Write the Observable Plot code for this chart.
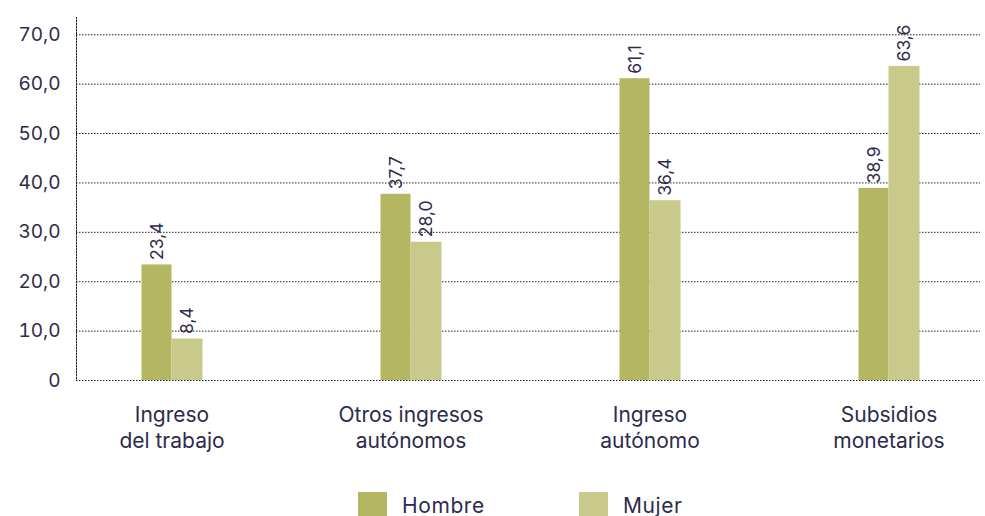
<!DOCTYPE html>
<html>
<head>
<meta charset="utf-8">
<script src="https://cdn.jsdelivr.net/npm/d3@7"></script>
<script src="https://cdn.jsdelivr.net/npm/@observablehq/plot@0.6"></script>
<style>
  html, body { margin: 0; padding: 0; background: #fff; width: 985px; height: 516px; overflow: hidden; }
  body { font-family: Inter, "Open Sans", sans-serif; color: #2d2b4a; }
  #legend { position: relative; height: 36px; }
  .item { position: absolute; top: 12px; display: flex; align-items: center; font-size: 21px; letter-spacing: 0.6px; }
  .sw { width: 29px; height: 26px; margin-right: 15px; }
</style>
</head>
<body>
<div id="chart"></div>
<div id="legend"></div>
<script>
const categories = ["Ingreso\ndel trabajo", "Otros ingresos\nautónomos", "Ingreso\nautónomo", "Subsidios\nmonetarios"];
const series = ["Hombre", "Mujer"];
const hombre = [23.4, 37.7, 61.1, 38.9];
const mujer = [8.4, 28.0, 36.4, 63.6];
const yTicks = [0, 10, 20, 30, 40, 50, 60, 70];
const colors = ["#b4b662", "#c8c98b"];

const data = [];
categories.forEach((c, i) => {
  data.push({cat: c, sex: "Hombre", v: hombre[i]});
  data.push({cat: c, sex: "Mujer", v: mujer[i]});
});
const fmt = v => v.toFixed(1).replace(".", ",");
const ink = "#2d2b4a";

const chart = Plot.plot({
  width: 985,
  height: 480,
  marginLeft: 76,
  marginRight: 5,
  marginTop: 17,
  marginBottom: 100,
  style: {fontFamily: "Inter, 'Open Sans', sans-serif", color: ink, background: "#fff"},
  x: {domain: categories, range: [51.5, 1007.5], padding: 0, axis: null},
  y: {domain: [0, 73.5], axis: null},
  color: {domain: series, range: colors},
  marks: [
    Plot.gridY(yTicks, {stroke: "#222", strokeOpacity: 1, strokeDasharray: "1.5,1.5", strokeWidth: 1}),
    Plot.frame({anchor: "left", stroke: "#222", strokeDasharray: "1.5,1.5"}),
    Plot.barY(data.filter(d => d.sex === "Hombre"), {x: "cat", y: "v", fill: "sex", insetLeft: 89.5, insetRight: 119.5}),
    Plot.barY(data.filter(d => d.sex === "Mujer"), {x: "cat", y: "v", fill: "sex", insetLeft: 119.5, insetRight: 88.5}),
    Plot.text(data.filter(d => d.sex === "Hombre"), {x: "cat", y: "v", text: d => fmt(d.v), rotate: -90, textAnchor: "start", dx: -15, dy: -5, fontSize: 17.5, fill: ink, style: {letterSpacing: "0.6px"}}),
    Plot.text(data.filter(d => d.sex === "Mujer"), {x: "cat", y: "v", text: d => fmt(d.v), rotate: -90, textAnchor: "start", dx: 15.5, dy: -5, fontSize: 17.5, fill: ink, style: {letterSpacing: "0.6px"}}),
    Plot.axisY(yTicks, {tickSize: 0, tickPadding: 16, tickFormat: d => d === 0 ? "0" : fmt(d), fontSize: 19, fill: ink, label: null}),
    Plot.axisX({tickSize: 0, tickPadding: 24, fontSize: 21, lineHeight: 1.2, fill: ink, label: null, style: {letterSpacing: "0.6px"}})
  ]
});
document.getElementById("chart").appendChild(chart);

const legend = document.getElementById("legend");
const lx = [358, 579];
series.forEach((s, i) => {
  const it = document.createElement("div");
  it.className = "item";
  it.style.left = lx[i] + "px";
  it.innerHTML = `<div class="sw" style="background:${colors[i]}"></div><span>${s}</span>`;
  legend.appendChild(it);
});
</script>
</body>
</html>
